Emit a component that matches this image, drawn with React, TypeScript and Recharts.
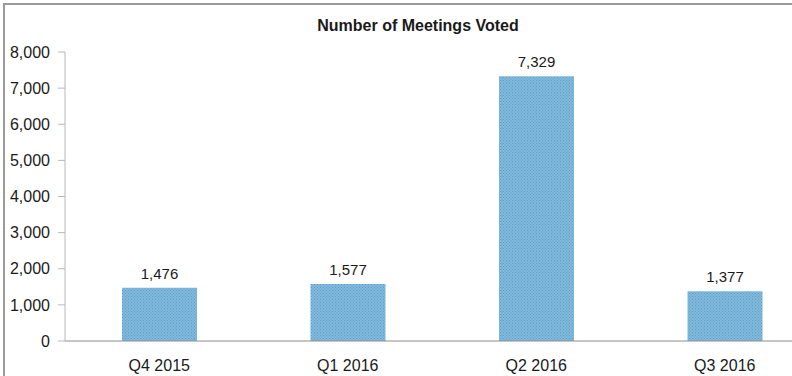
import React from 'react';
import { BarChart, Bar, XAxis, YAxis, LabelList } from 'recharts';

const quarters = ['Q4 2015', 'Q1 2016', 'Q2 2016', 'Q3 2016'];
const meetings = [1476, 1577, 7329, 1377];
const yTicks = [0, 1000, 2000, 3000, 4000, 5000, 6000, 7000, 8000];
const title = 'Number of Meetings Voted';

const data = quarters.map((q, i) => ({ q, value: meetings[i] }));

const fmt = (v: any) => Number(v).toLocaleString('en-US');

export default function App() {
    return (
        <div style={{ position: 'absolute', left: 0, top: 0, width: 792, height: 376, overflow: 'hidden', background: '#fff' }}>
            <div style={{ position: 'absolute', left: 3, top: 3, width: 840, height: 400, border: '2px solid #9a9a9a' }} />
            <div
                style={{
                    position: 'absolute', left: 268, top: 17, width: 300, textAlign: 'center',
                    fontFamily: 'Liberation Sans, Arial, sans-serif', fontWeight: 'bold', fontSize: 16, color: '#1a1a1a'
                }}
            >
                {title}
            </div>
            <div style={{ position: 'absolute', left: 5, top: 5 }}>
                <BarChart
                    width={824}
                    height={371}
                    data={data}
                    margin={{ top: 47, right: 10, left: 8, bottom: 5 }}
                    style={{ fontFamily: 'Liberation Sans, Arial, sans-serif' }}
                >
                    <defs>
                        {/* fine dotted fill, like the printed original */}
                        <pattern id="dots" width="3" height="3" patternUnits="userSpaceOnUse">
                            <rect width="3" height="3" fill="#80bbde" />
                            <rect x="0" y="0" width="1" height="1" fill="#5f9cc4" />
                            <rect x="1.5" y="1.5" width="1" height="1" fill="#5f9cc4" />
                        </pattern>
                    </defs>
                    <XAxis
                        xAxisId="cat"
                        dataKey="q"
                        height={30}
                        tickLine={false}
                        tickMargin={13}
                        axisLine={{ stroke: '#8c8c8c' }}
                        tick={{ fill: '#1a1a1a', fontSize: 16 }}
                    />
                    <XAxis
                        xAxisId="sep"
                        type="number"
                        domain={[0, 4]}
                        ticks={[1, 2, 3]}
                        height={0}
                        tick={false}
                        axisLine={false}
                        tickLine={{ stroke: '#8c8c8c' }}
                        tickSize={5}
                    />
                    <YAxis
                        width={52}
                        domain={[0, 8000]}
                        ticks={yTicks}
                        interval={0}
                        tickFormatter={fmt}
                        tickSize={7}
                        tickMargin={8}
                        axisLine={{ stroke: '#b8b8b8' }}
                        tickLine={{ stroke: '#b8b8b8' }}
                        tick={{ fill: '#1a1a1a', fontSize: 16 }}
                    />
                    <Bar xAxisId="cat" dataKey="value" fill="url(#dots)" barSize={75} isAnimationActive={false}>
                        <LabelList dataKey="value" position="top" offset={9} formatter={fmt} fill="#1a1a1a" fontSize={15} />
                    </Bar>
                </BarChart>
            </div>
        </div>
    );
}
